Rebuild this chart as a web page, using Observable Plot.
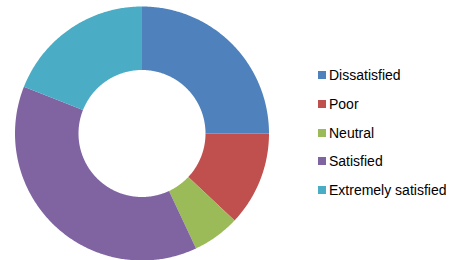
<!DOCTYPE html>
<html><head><meta charset="utf-8">
<script src="https://cdn.jsdelivr.net/npm/d3@7"></script>
<script src="https://cdn.jsdelivr.net/npm/@observablehq/plot@0.6"></script>
<style>
body{margin:0;background:#fff;}
#chart{position:relative;width:455px;height:260px;font-family:"Liberation Sans",Arial,sans-serif;}
#legend{position:absolute;left:318px;top:61px;}
</style></head><body><div id="chart"><div id="legend"></div></div>
<script>
const categories = ["Dissatisfied","Poor","Neutral","Satisfied","Extremely satisfied"];
const values = [25,12,6,38,19];
const colors = ["#4F81BD","#C0504D","#9BBB59","#8064A2","#4BACC6"];
const innerRatio = 0.5;

const arcs = d3.pie().sort(null).value(d => d)(values);
const pts = [];
arcs.forEach((a, i) => {
  const n = Math.max(2, Math.ceil((a.endAngle - a.startAngle) / 0.01));
  for (let k = 0; k <= n; k++) {
    const t = a.startAngle + (a.endAngle - a.startAngle) * k / n;
    pts.push({cat: categories[i], x: Math.sin(t), y: Math.cos(t)});
  }
  for (let k = n; k >= 0; k--) {
    const t = a.startAngle + (a.endAngle - a.startAngle) * k / n;
    pts.push({cat: categories[i], x: innerRatio * Math.sin(t), y: innerRatio * Math.cos(t)});
  }
});

const W = 455, H = 260, R = 127, cx = 141.5, cy = 133;
const chart = Plot.plot({
  width: W, height: H,
  marginLeft: cx - R, marginRight: W - cx - R,
  marginTop: cy - R, marginBottom: H - cy - R,
  x: {domain: [-1, 1], axis: null},
  y: {domain: [-1, 1], axis: null},
  color: {domain: categories, range: colors},
  marks: [
    Plot.line(pts, {x: "x", y: "y", z: "cat", fill: "cat", stroke: "none", curve: "linear-closed"})
  ]
});
document.getElementById("chart").prepend(chart);

const leg = Plot.legend({
  color: {domain: categories, range: colors},
  legend: "swatches", columns: 1, swatchSize: 8,
  style: {fontFamily: '"Liberation Sans",Arial,sans-serif', fontSize: "14px", color: "#000", margin: "0", background: "transparent"}
});
document.getElementById("legend").appendChild(leg);
leg.querySelectorAll(":scope > div").forEach(d => {
  d.style.height = "28.7px";
  d.style.padding = "0";
  d.style.margin = "0";
  d.style.display = "flex";
  d.style.alignItems = "center";
  d.style.whiteSpace = "nowrap";
  const s = d.querySelector("svg");
  if (s) s.style.marginRight = "3px";
});
</script></body></html>
